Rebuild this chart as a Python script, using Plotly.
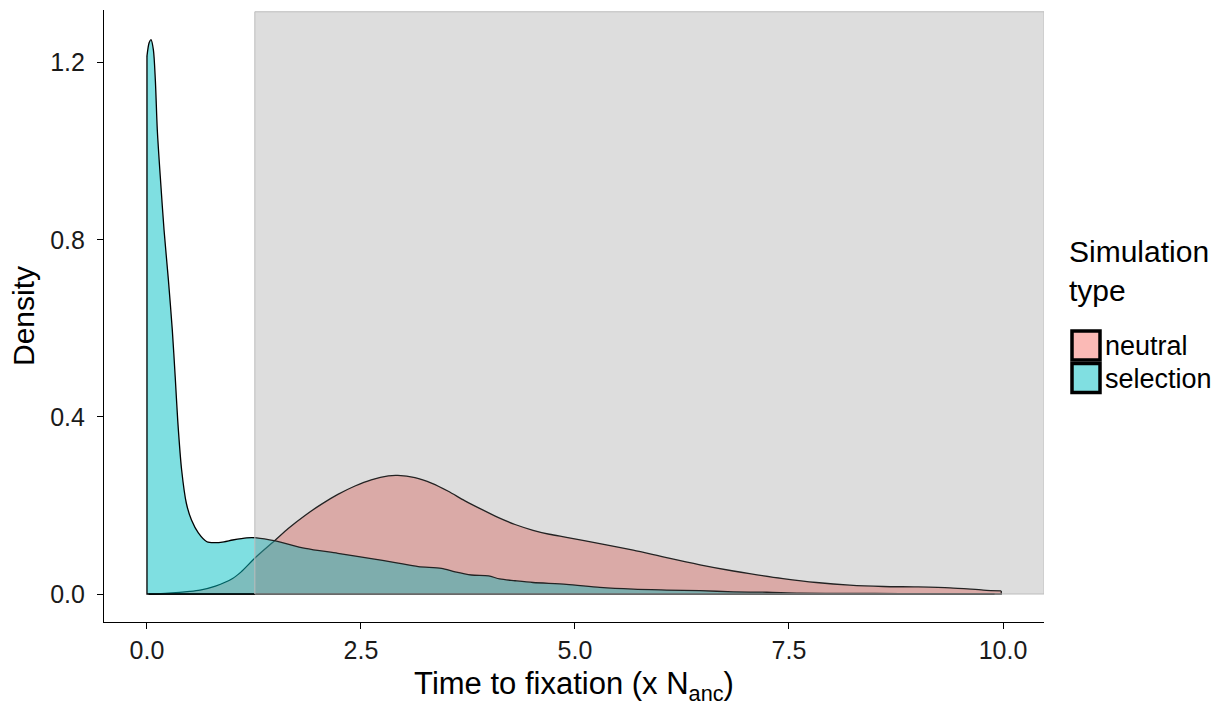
import plotly.graph_objects as go

# ---- data ----
series_names = ["neutral", "selection"]

neutral_x = [0.02, 0.25, 0.5, 0.62, 0.8, 1.0, 1.1, 1.27, 1.5, 1.65, 1.85, 2.04, 2.23, 2.43,
             2.62, 2.82, 2.93, 3.13, 3.33, 3.52, 3.71, 3.91, 4.1, 4.3, 4.51, 4.7, 4.9, 5.29,
             5.68, 6.07, 6.46, 6.85, 7.04, 7.43, 7.82, 8.21, 8.6, 8.99, 9.38, 9.77, 9.98]
neutral_y = [0.0, 0.002, 0.006, 0.009, 0.018, 0.035, 0.05, 0.083, 0.122, 0.148, 0.178, 0.203,
             0.225, 0.244, 0.258, 0.267, 0.268, 0.263, 0.25, 0.232, 0.211, 0.191, 0.173,
             0.157, 0.144, 0.135, 0.128, 0.114, 0.099, 0.082, 0.066, 0.052, 0.046, 0.035,
             0.026, 0.02, 0.017, 0.016, 0.014, 0.009, 0.007]

selection_x = [0.0, 0.025, 0.047, 0.075, 0.098, 0.121, 0.16, 0.2, 0.25, 0.296, 0.33, 0.36,
               0.405, 0.46, 0.52, 0.6, 0.7, 0.79, 0.9, 1.0, 1.165, 1.28, 1.5, 1.85, 2.23,
               2.62, 2.9, 3.17, 3.44, 3.6, 3.79, 3.99, 4.12, 4.3, 4.51, 4.9, 5.29, 5.68,
               6.07, 6.46, 6.85, 7.24, 7.63, 8.2, 8.8, 9.4, 9.9]
selection_y = [1.215, 1.245, 1.252, 1.229, 1.16, 1.047, 0.93, 0.821, 0.71, 0.596, 0.49,
               0.39, 0.28, 0.205, 0.167, 0.138, 0.118, 0.116, 0.118, 0.122, 0.127, 0.127,
               0.12, 0.103, 0.092, 0.08, 0.071, 0.062, 0.058, 0.05, 0.043, 0.041, 0.034,
               0.030, 0.026, 0.022, 0.015, 0.011, 0.009, 0.0075, 0.005, 0.004, 0.002,
               0.0015, 0.001, 0.0005, 0.0003]

# shaded region
region_x0, region_x1 = 1.26, 10.48
region_y0, region_y1 = 0.0, 1.315

x_tickvals = [0.0, 2.5, 5.0, 7.5, 10.0]
x_ticktext = ["0.0", "2.5", "5.0", "7.5", "10.0"]
y_tickvals = [0.0, 0.4, 0.8, 1.2]
y_ticktext = ["0.0", "0.4", "0.8", "1.2"]

fills = ["rgba(248,118,109,0.5)", "rgba(0,191,196,0.5)"]
legend_swatch = ["#fbbab6", "#80dfe1"]

FONT = "Liberation Sans, Arial, Helvetica, sans-serif"

fig = go.Figure()
for name, xs, ys, fc in [("neutral", neutral_x, neutral_y, fills[0]),
                         ("selection", selection_x, selection_y, fills[1])]:
    fig.add_trace(go.Scatter(
        x=xs, y=ys, mode="lines", name=name, fill="tozeroy", fillcolor=fc,
        line=dict(color="black", width=1.3, shape="spline", smoothing=0.8),
        showlegend=False, hoverinfo="x+y"))
    # polygon sides and baseline
    fig.add_trace(go.Scatter(
        x=[xs[0], xs[0], xs[-1], xs[-1]], y=[ys[0], 0, 0, ys[-1]], mode="lines",
        line=dict(color="black", width=1.3), showlegend=False, hoverinfo="skip"))

fig.add_shape(type="rect", xref="x", yref="y", x0=region_x0, x1=region_x1,
              y0=region_y0, y1=region_y1, fillcolor="rgba(128,128,128,0.27)",
              line=dict(color="#bdbdbd", width=1), layer="above")

# manual legend (ggplot style)
W, H = 940.0, 612.0
L, B = 104.0, 84.0
def px_x(p):
    return (p - L) / W
def px_y(p):
    return (706 - B - p) / H

fig.add_annotation(text="Simulation<br>type", xref="paper", yref="paper",
                   x=px_x(1067), y=px_y(271), xanchor="left", yanchor="middle",
                   align="left", showarrow=False,
                   font=dict(family=FONT, size=30, color="black"))
for i, (name, col) in enumerate(zip(series_names, legend_swatch)):
    top = 331 + i * 32.5
    fig.add_shape(type="rect", xref="paper", yref="paper",
                  x0=px_x(1072), x1=px_x(1100), y0=px_y(top + 29), y1=px_y(top),
                  fillcolor=col, line=dict(color="black", width=3.5))
    fig.add_annotation(text=name, xref="paper", yref="paper",
                       x=px_x(1103), y=px_y(top + 15), xanchor="left", yanchor="middle",
                       showarrow=False, font=dict(family=FONT, size=27, color="black"))

NB = "\u00a0"
fig.update_layout(
    width=1223, height=706,
    margin=dict(l=104, r=179, t=10, b=84, autoexpand=False),
    paper_bgcolor="white", plot_bgcolor="white",
    font=dict(family=FONT, color="black"),
    showlegend=False,
    xaxis=dict(range=[-0.502, 10.479], showgrid=False, zeroline=False, automargin=False,
               showline=True, linecolor="black", linewidth=1.2,
               ticks="outside", ticklen=6, tickcolor="black", tickwidth=1.2,
               tickvals=x_tickvals, ticktext=x_ticktext,
               tickfont=dict(family=FONT, size=25, color="#1a1a1a"),
               title=dict(text="Time to fixation (x N<sub>anc</sub>)",
                          font=dict(family=FONT, size=31, color="black"), standoff=22)),
    yaxis=dict(range=[-0.0632, 1.319], showgrid=False, zeroline=False, automargin=False,
               showline=True, linecolor="black", linewidth=1.2,
               ticks="outside", ticklen=6, tickcolor="black", tickwidth=1.2,
               tickvals=y_tickvals, ticktext=[t + NB for t in y_ticktext],
               tickfont=dict(family=FONT, size=25, color="#1a1a1a"),
               title=dict(text="Density", font=dict(family=FONT, size=30, color="black"),
                          standoff=6)),
)

fig.write_html("out.html", config={"displayModeBar": False},
               post_script="document.body.style.margin='0';document.body.style.padding='0';")
